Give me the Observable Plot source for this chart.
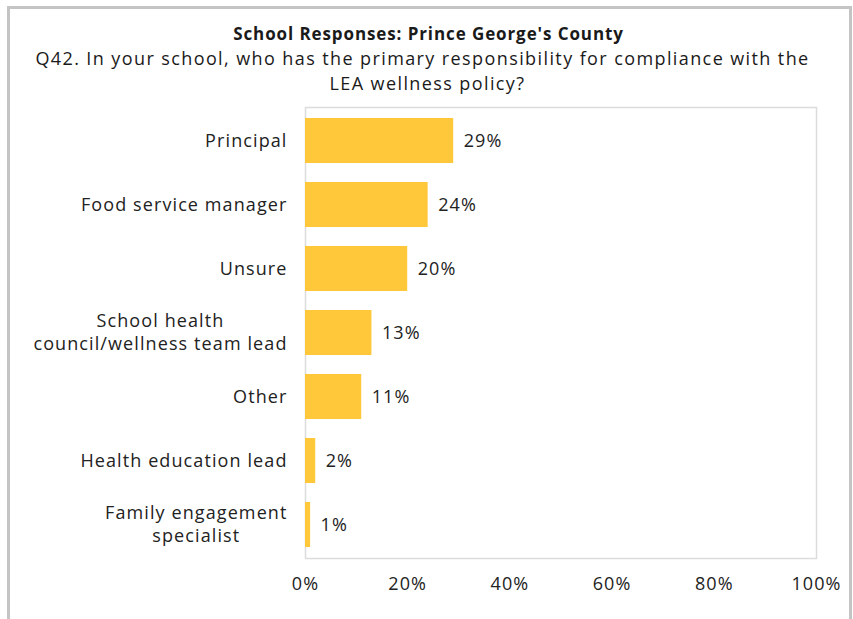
<!DOCTYPE html>
<html>
<head>
<meta charset="utf-8">
<script src="https://cdn.jsdelivr.net/npm/d3@7"></script>
<script src="https://cdn.jsdelivr.net/npm/@observablehq/plot@0.6"></script>
<style>
  html, body { margin: 0; padding: 0; background: #fff; }
  body { width: 853px; height: 619px; overflow: hidden; position: relative; font-family: "Open Sans", sans-serif; }
  #frame { position: absolute; left: 7px; top: 6px; width: 845px; height: 640px; border: 3px solid #c4c4c4; box-sizing: border-box; }
  #titles { position: absolute; left: 0; top: 0; width: 853px; height: 100px; text-align: center; color: #1a1a1a; }
  #t1 { position: absolute; top: 22px; left: 2px; width: 100%; font-weight: 700; font-size: 17px; letter-spacing: 0.9px; }
  #t2 { position: absolute; top: 46px; left: -4px; width: 100%; font-size: 18px; line-height: 25px; letter-spacing: 1.4px; }
  #t2 span { position: relative; left: 5px; }
  #chart { position: absolute; left: 0; top: 100px; }
  #chart svg text { letter-spacing: 1.1px; }
</style>
</head>
<body>
<div id="frame"></div>
<div id="titles">
  <div id="t1">School Responses: Prince George's County</div>
  <div id="t2">Q42. In your school, who has the primary responsibility for compliance with the<br><span>LEA wellness policy?</span></div>
</div>
<div id="chart"></div>
<script>
const categories = [
  "Principal",
  "Food service manager",
  "Unsure",
  "School health\ncouncil/wellness team lead",
  "Other",
  "Health education lead",
  "Family engagement\nspecialist"
];
const values = [29, 24, 20, 13, 11, 2, 1];
const xTicks = [0, 20, 40, 60, 80, 100];

const data = categories.map((c, i) => ({category: c, value: values[i]}));

const LS = 1.1;
const ctx = document.createElement("canvas").getContext("2d");
ctx.font = '18px "Open Sans"';
const measure = s => ctx.measureText(s).width + LS * s.length;

// y labels: one text mark per line, each multi-line block centred, block right edge 18px left of the frame
const labelMarks = [];
categories.forEach(c => {
  const lines = c.split("\n");
  const half = d3.max(lines, measure) / 2;
  lines.forEach((l, j) => {
    labelMarks.push(Plot.text([{category: c, text: l}], {
      y: "category", text: "text", frameAnchor: "left", textAnchor: "middle",
      dx: -18 - half, dy: (j - (lines.length - 1) / 2) * 23,
      fontSize: 18, fill: "#222"
    }));
  });
});

const chart = Plot.plot({
  width: 853,
  height: 519,
  marginLeft: 305,
  marginRight: 37,
  marginTop: 7,
  marginBottom: 61,
  style: {fontFamily: '"Open Sans", sans-serif', fontSize: "18px", color: "#222", background: "transparent"},
  x: {domain: [0, 100], axis: null},
  y: {domain: categories, paddingInner: 0.3, paddingOuter: 0.15, axis: null},
  marks: [
    Plot.frame({stroke: "#dcdcdc", strokeWidth: 1.5}),
    Plot.barX(data, {y: "category", x: "value", fill: "#FFC83A"}),
    Plot.text(data, {y: "category", x: "value", text: d => d.value + "%", textAnchor: "start", dx: 10, fill: "#222", fontSize: 18}),
    Plot.axisX({ticks: xTicks, tickFormat: d => d + "%", tickSize: 0, tickPadding: 19, label: null, fontSize: 18, fill: "#222"}),
    ...labelMarks
  ]
});
document.getElementById("chart").appendChild(chart);
</script>
</body>
</html>
